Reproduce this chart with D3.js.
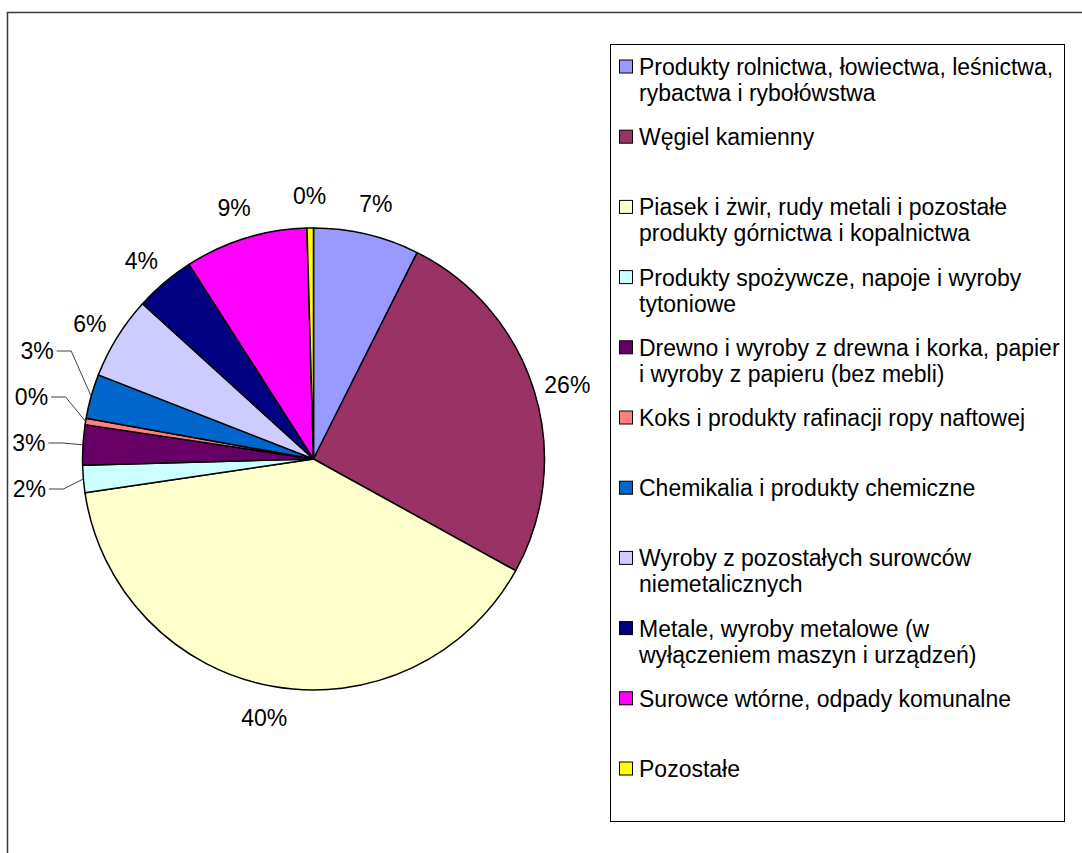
<!DOCTYPE html>
<html>
<head>
<meta charset="utf-8">
<script src="https://cdn.jsdelivr.net/npm/d3@7/dist/d3.min.js"></script>
<style>
  html, body { margin: 0; padding: 0; background: #ffffff; }
  svg { display: block; }
  text { font-family: "Liberation Sans", Arial, sans-serif; fill: #000; }
</style>
</head>
<body>
<svg id="chart" width="1082" height="853"></svg>
<script>
// Cargo groups (legend labels; "\n" marks the line break used in the legend)
const categories = [
  "Produkty rolnictwa, łowiectwa, leśnictwa,\nrybactwa i rybołówstwa",
  "Węgiel kamienny",
  "Piasek i żwir, rudy metali i pozostałe\nprodukty górnictwa i kopalnictwa",
  "Produkty spożywcze, napoje i wyroby\ntytoniowe",
  "Drewno i wyroby z drewna i korka, papier\ni wyroby z papieru (bez mebli)",
  "Koks i produkty rafinacji ropy naftowej",
  "Chemikalia i produkty chemiczne",
  "Wyroby z pozostałych surowców\nniemetalicznych",
  "Metale, wyroby metalowe (w\nwyłączeniem maszyn i urządzeń)",
  "Surowce wtórne, odpady komunalne",
  "Pozostałe"
];

// Share of each group, in percent
const shares = [7.4, 25.6, 39.6, 1.9, 2.8, 0.45, 3.1, 5.8, 4.2, 8.6, 0.45];

// Slice fill colours
const colors = [
  "#9999FF", "#993366", "#FFFFCC", "#CCFFFF", "#660066", "#FF8080",
  "#0066CC", "#CCCCFF", "#000080", "#FF00FF", "#FFFF00"
];

const svg = d3.select("#chart");
const W = 1082, H = 853;

// Outer chart area border (runs off the right and bottom edges)
svg.append("rect")
  .attr("x", 7.5).attr("y", 12.5)
  .attr("width", W + 20).attr("height", H + 20)
  .attr("fill", "#fff")
  .attr("stroke", "#3a3a3a")
  .attr("stroke-width", 1.5);

// ---- Pie ----
const cx = 313.5, cy = 459, r = 231;
const total = d3.sum(shares);
const pct = d3.format(".0%");

const pie = d3.pie().sort(null).value(d => d).startAngle(0).endAngle(2 * Math.PI);
const arcs = pie(shares);
const arc = d3.arc().innerRadius(0).outerRadius(r);

const g = svg.append("g").attr("transform", `translate(${cx},${cy})`);

g.selectAll("path.slice")
  .data(arcs)
  .enter().append("path")
  .attr("class", "slice")
  .attr("d", arc)
  .attr("fill", (d, i) => colors[i])
  .attr("stroke", "#000")
  .attr("stroke-width", 1.5)
  .attr("stroke-linejoin", "round");

// ---- Percentage labels ----
const fontSize = 23;
const midAngle = d => (d.startAngle + d.endAngle) / 2;

const labels = arcs.map((d, i) => {
  const a = midAngle(d);
  const frac = d.value / total;
  const deg = a * 180 / Math.PI;
  return {
    i, a, frac, text: pct(frac),
    leader: frac < 0.04 && deg > 240 && deg < 300
  };
});

// Measure label widths to offset boxes away from the pie
const measure = svg.append("text").attr("font-size", fontSize).attr("visibility", "hidden");
labels.forEach(l => {
  measure.text(l.text);
  l.w = measure.node().getComputedTextLength();
  l.h = fontSize * 0.78;
});
measure.remove();

// Labels placed around the rim (a little closer at the sides)
labels.filter(l => !l.leader).forEach(l => {
  const s = Math.sin(l.a), c = -Math.cos(l.a);
  const dist = 238 + 16 * Math.abs(c);
  l.x = dist * s + s * l.w / 2;
  l.y = dist * c + c * l.h / 2;
});

// Crowded small slices on the left: labels stacked with leader lines
const led = labels.filter(l => l.leader);
led.forEach(l => {
  l.ax = r * Math.sin(l.a);
  l.ay = -r * Math.cos(l.a);
  l.y = -261 * Math.cos(l.a);
});
const gap = 46;
if (led.length) {
  const sorted = led.slice().sort((a, b) => a.y - b.y);
  let pivot = 0;
  sorted.forEach((l, k) => { if (Math.abs(l.y) < Math.abs(sorted[pivot].y)) pivot = k; });
  for (let k = pivot + 1; k < sorted.length; k++)
    sorted[k].y = Math.max(sorted[k].y, sorted[k - 1].y + gap);
  for (let k = pivot - 1; k >= 0; k--)
    sorted[k].y = Math.min(sorted[k].y, sorted[k + 1].y - gap);
  led.forEach(l => {
    l.ex = l.ax - 20;           // elbow
    l.hx = l.ex - 14.5;         // end of horizontal segment
    l.x = l.hx - 3 - l.w / 2;   // text centre
  });
}

g.selectAll("polyline.leader")
  .data(led)
  .enter().append("polyline")
  .attr("class", "leader")
  .attr("points", l => `${l.hx},${l.y} ${l.ex},${l.y} ${l.ax},${l.ay}`)
  .attr("fill", "none")
  .attr("stroke", "#404040")
  .attr("stroke-width", 1);

g.selectAll("text.pct")
  .data(labels)
  .enter().append("text")
  .attr("class", "pct")
  .attr("x", l => l.x)
  .attr("y", l => l.y)
  .attr("text-anchor", "middle")
  .attr("dominant-baseline", "central")
  .attr("font-size", fontSize)
  .text(l => l.text);

// ---- Legend ----
const legX = 610.5, legY = 44.5, legW = 454, legH = 777;
const legStep = 70.2, firstBaseline = 75, lineH = 26;

svg.append("rect")
  .attr("x", legX).attr("y", legY)
  .attr("width", legW).attr("height", legH)
  .attr("fill", "#fff")
  .attr("stroke", "#000")
  .attr("stroke-width", 1);

const items = svg.selectAll("g.item")
  .data(categories)
  .enter().append("g")
  .attr("class", "item")
  .attr("transform", (d, i) => `translate(0,${firstBaseline + i * legStep})`);

items.append("rect")
  .attr("x", 619.5).attr("y", -15)
  .attr("width", 13).attr("height", 13)
  .attr("fill", (d, i) => colors[i])
  .attr("stroke", "#000")
  .attr("stroke-width", 1);

items.append("text")
  .attr("x", 639)
  .attr("y", 0)
  .attr("font-size", fontSize)
  .each(function (d) {
    const t = d3.select(this);
    d.split("\n").forEach((line, k) => {
      t.append("tspan").attr("x", 639).attr("y", k * lineH).text(line);
    });
  });
</script>
</body>
</html>
